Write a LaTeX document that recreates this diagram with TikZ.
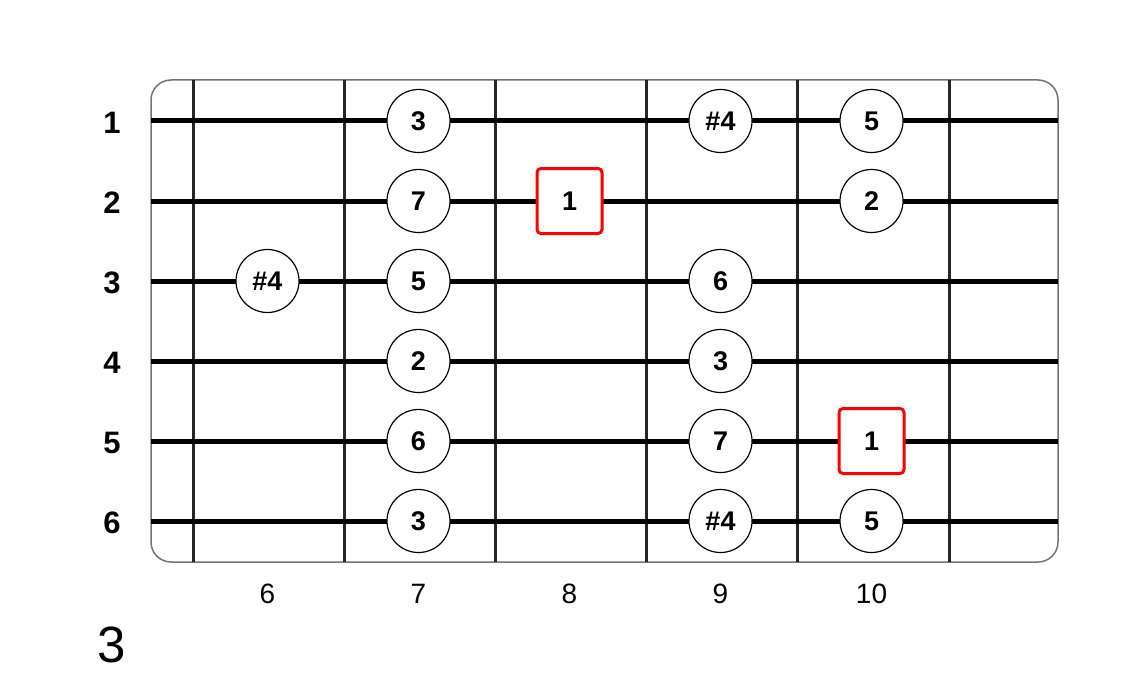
\documentclass[tikz,border=0pt]{standalone}
\usepackage{fontspec}
\setmainfont{Liberation Sans}

\begin{document}
\begin{tikzpicture}[x=1pt,y=-1pt,
  board/.style={draw=black!55,line width=1.5pt,rounded corners=20pt},
  fretline/.style={line width=3pt,black!85},
  stringline/.style={line width=5pt,black},
  note/.style={circle,draw,fill=white,line width=1.2pt,minimum size=63pt,inner sep=0pt,font=\bfseries\fontsize{27}{27}\selectfont},
  root/.style={rectangle,draw=red,line width=3pt,rounded corners=4pt,fill=white,minimum size=65pt,inner sep=0pt,font=\bfseries\fontsize{27}{27}\selectfont},
  strlabel/.style={font=\bfseries\fontsize{31}{31}\selectfont},
  fretlabel/.style={font=\fontsize{28}{28}\selectfont}]
\useasboundingbox (0,0) rectangle (1132,682);

\draw[board] (151,80) rectangle (1058,562);

\foreach \i in {0,...,5} {
  \coordinate (top\i) at (193+151.2*\i,80);
  \coordinate (bot\i) at (193+151.2*\i,562);
  \draw[fretline] (top\i) -- (bot\i);
}
\foreach \s in {1,...,6} {
  \coordinate (left\s) at (151,41+80*\s);
  \coordinate (right\s) at (1058,41+80*\s);
  \draw[stringline] (left\s) -- (right\s);
  \node[strlabel] (str\s) at (112,42.5+80*\s) {\s};
}
\foreach \f [count=\k from 0] in {6,...,10}
  \node[fretlabel] (fret\f) at (267.5+151*\k,594) {\f};

% string 1
\node[note] (s1f7) at (418.5,121) {3};
\node[note] (s1f9) at (720.5,121) {\#4};
\node[note] (s1f10) at (871.5,121) {5};
% string 2
\node[note] (s2f7) at (418.5,201) {7};
\node[root] (s2f8) at (569.5,201) {1};
\node[note] (s2f10) at (871.5,201) {2};
% string 3
\node[note] (s3f6) at (267.5,281) {\#4};
\node[note] (s3f7) at (418.5,281) {5};
\node[note] (s3f9) at (720.5,281) {6};
% string 4
\node[note] (s4f7) at (418.5,361) {2};
\node[note] (s4f9) at (720.5,361) {3};
% string 5
\node[note] (s5f7) at (418.5,441) {6};
\node[note] (s5f9) at (720.5,441) {7};
\node[root] (s5f10) at (871.5,441) {1};
% string 6
\node[note] (s6f7) at (418.5,521) {3};
\node[note] (s6f9) at (720.5,521) {\#4};
\node[note] (s6f10) at (871.5,521) {5};

\node[font=\fontsize{51}{51}\selectfont] (pos) at (112,645) {3};

\end{tikzpicture}
\end{document}
